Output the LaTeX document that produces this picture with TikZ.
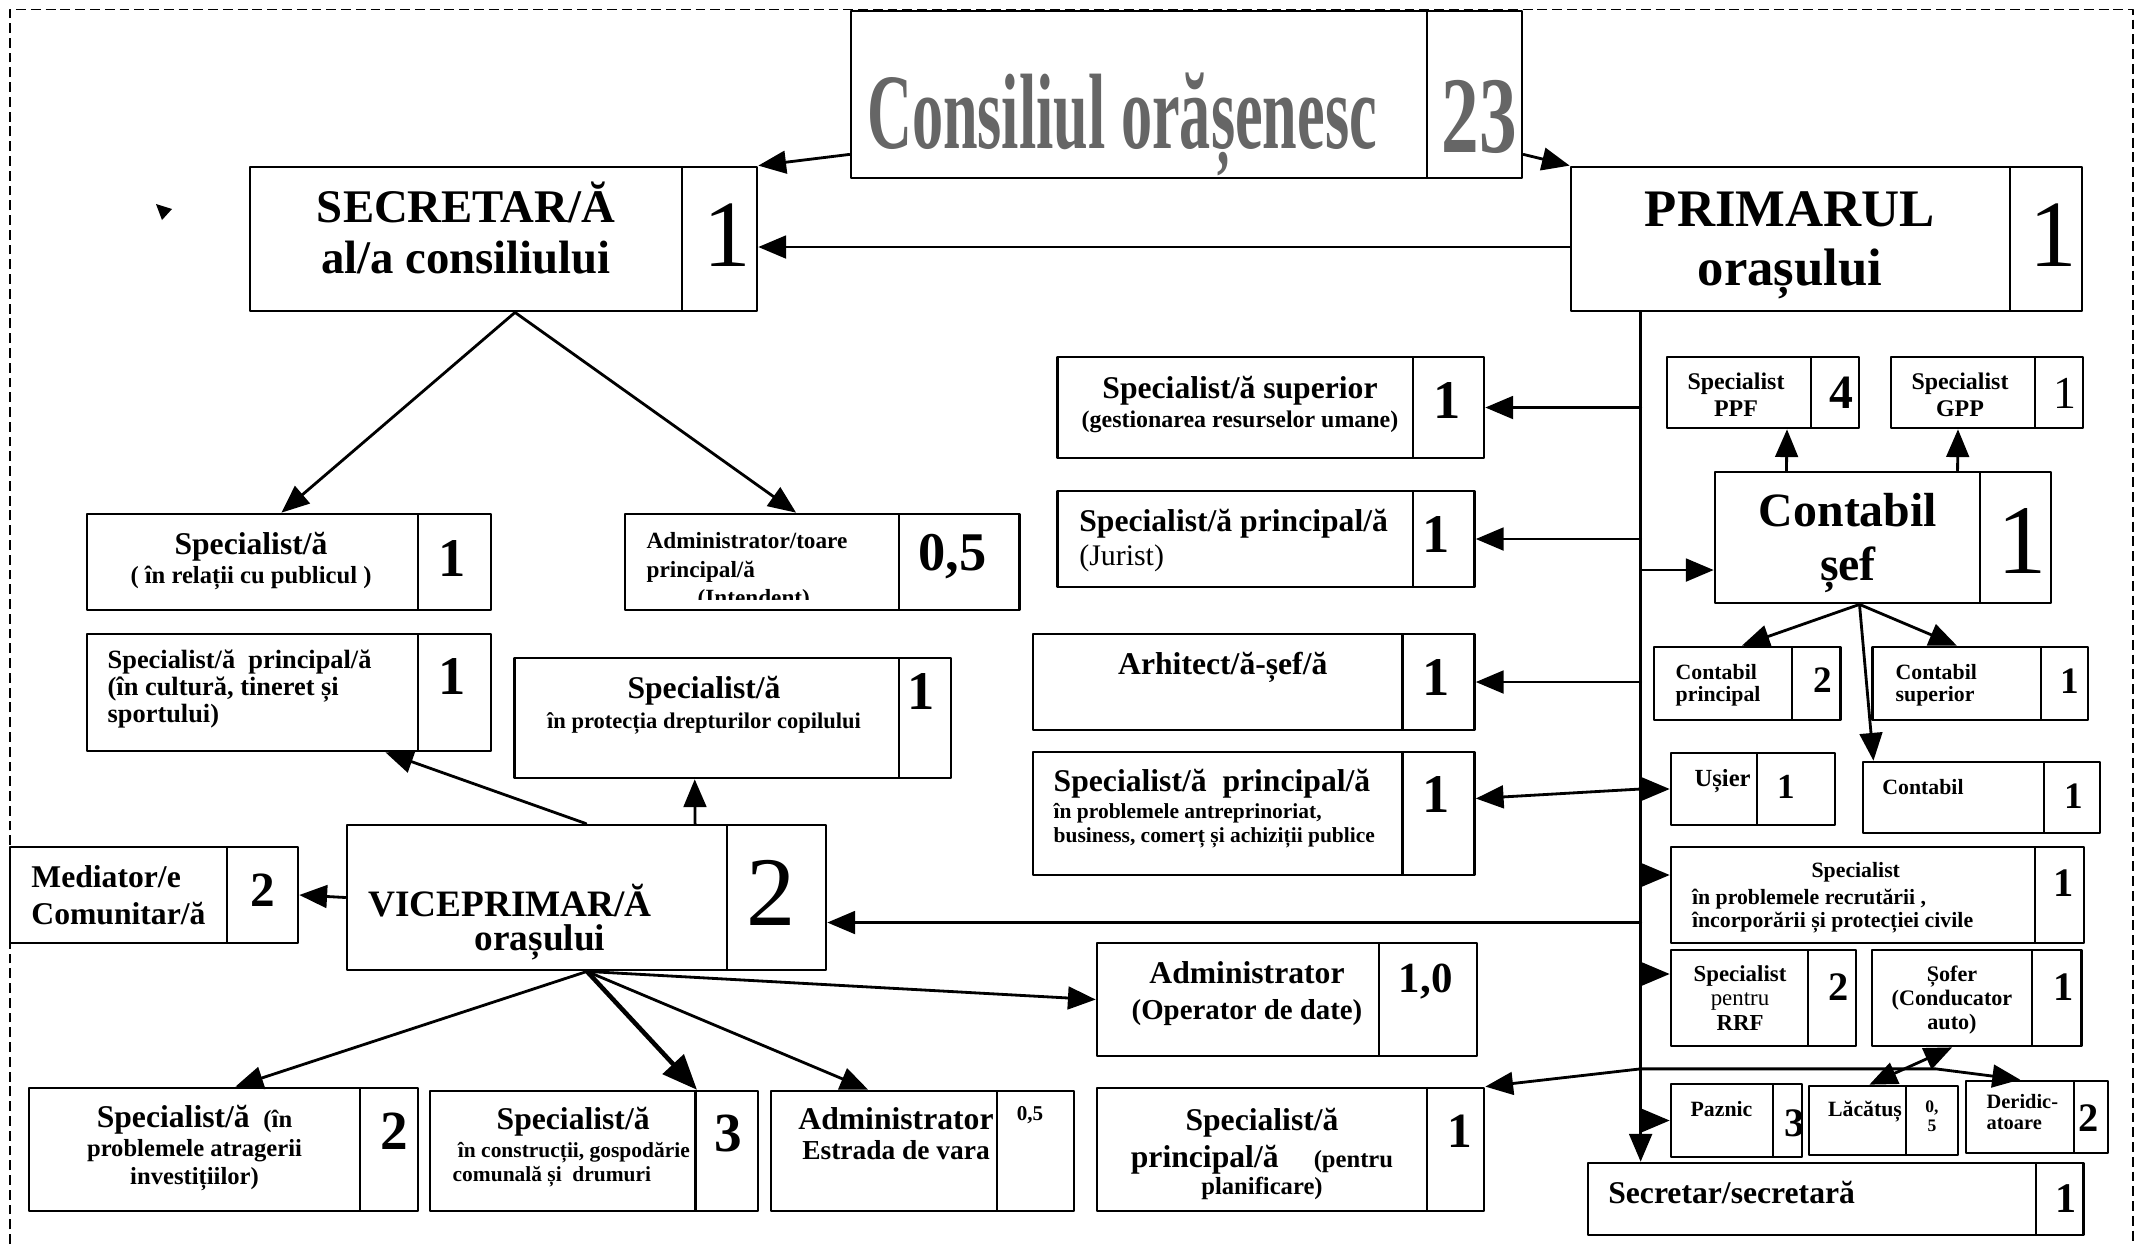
\documentclass[tikz,border=0pt]{standalone}
\usepackage{fontspec}
\setmainfont{Liberation Serif}
\usepackage{graphicx}
\usetikzlibrary{arrows,fit}
\newcommand{\fsz}[2]{\fontsize{#1}{#2}\selectfont}
\tikzset{
  frame/.style={draw, line width=0.8pt, inner sep=0pt},
  txt/.style={inner sep=0pt, align=center},
  num/.style={inner sep=0pt, font=\fsz{15.5}{15.5}\bfseries},
  big/.style={inner sep=0pt, font=\fsz{27}{27}},
  conn/.style={->, line width=0.8pt}
}

\begin{document}
\begin{tikzpicture}[line cap=round,line join=round,>=triangle 45,x=0.01cm,y=-0.01cm]
    \useasboundingbox (0,0) rectangle (2141,1244);

    % Page frame and stray tip
    \draw[line width=0.5pt, line cap=butt, dash pattern=on 2.8pt off 1.4pt] (10,1244) -- (10,9.5) -- (2133,9.5) -- (2133,1244);
    \fill (156,204) -- (172,209) -- (162,220) -- cycle;

    % Top level
    \node[frame, fit={(851,11) (1427,178)}] (cons) {};
    \node[frame, fit={(1427,11) (1522,178)}] (consN) {};
    \node[txt, anchor=base, text=black!60, font=\fsz{30.5}{30.5}\bfseries] (consT) at (1122,148) {\scalebox{0.58}[1]{Consiliul orășenesc}};
    \node[txt, anchor=base, text=black!60, font=\fsz{31}{31}\bfseries] (consNT) at (1479.5,152) {\scalebox{0.69}[1]{23}};

    \node[frame, fit={(250,167) (682,311)}] (secr) {};
    \node[frame, fit={(682,167) (757,311)}] (secrN) {};
    \node[txt, font=\fsz{13.3}{14.5}\bfseries] (secrT) at (466,228) {SECRETAR/Ă\\al/a consiliului};
    \node[big] (secrNT) at (726.8,235) {1};

    \node[frame, fit={(1571,167) (2010,311)}] (prim) {};
    \node[frame, fit={(2010,167) (2082,311)}] (primN) {};
    \node[txt, font=\fsz{15}{16.8}\bfseries] (primT) at (1790,245) {PRIMARUL\\orașului};
    \node[big] (primNT) at (2053.5,235) {1};

    % Under the secretary
    \node[frame, fit={(87,514) (418,610)}] (rel) {};
    \node[frame, fit={(418,514) (491,610)}] (relN) {};
    \node[txt, font=\fsz{9}{8}\bfseries] (relT) at (251,561) {Specialist/ă\\{\fsz{7}{8}( în relații cu publicul )}};
    \node[num] (relNT) at (452,558) {1};

    \node[frame, fit={(625,514) (899,610)}] (adm) {};
    \node[frame, fit={(899,514) (1019.5,610)}] (admN) {};
    \begin{scope}
        \clip (adm.north west) rectangle ([yshift=0.12cm]adm.south east);
        \node[txt, align=left, anchor=north west, font=\fsz{6.6}{8.1}\bfseries] (admT) at (646,532) {Administrator/toare\\principal/ă\\\hspace*{14.5pt}(Intendent)};
    \end{scope}
    \node[num] (admNT) at (952.6,556.7) {0,5};

    % Vice-mayor and its posts
    \node[frame, fit={(87,634) (418,751)}] (cult) {};
    \node[frame, fit={(418,634) (491,751)}] (cultN) {};
    \node[txt, align=left, anchor=west, font=\fsz{7.5}{7.8}\bfseries] (cultT) at (107,689) {Specialist/ă\ \ principal/ă\\(în cultură, tineret și\\sportului)};
    \node[num] (cultNT) at (452,676.7) {1};

    \node[frame, fit={(514.5,658) (899,778)}] (prot) {};
    \node[frame, fit={(899,658) (951,778)}] (protN) {};
    \node[txt, font=\fsz{9}{8.5}\bfseries] (protT) at (704,705) {Specialist/ă\\{\fsz{6.4}{8.5}în protecția drepturilor copilului}};
    \node[num] (protNT) at (921,691.7) {1};

    \node[frame, fit={(347,825) (727,970)}] (vice) {};
    \node[frame, fit={(727,825) (826,970)}] (viceN) {};
    \node[txt, font=\fsz{10.6}{9.5}\bfseries] (viceT) at (510,922) {VICEPRIMAR/Ă\\\hspace*{0.6cm}orașului};
    \node[big, font=\fsz{28}{28}] (viceNT) at (771,892.5) {2};

    \node[frame, fit={(10,847) (227,943)}] (med) {};
    \node[frame, fit={(227,847) (298,943)}] (medN) {};
    \node[txt, align=left, anchor=west, font=\fsz{9}{10.4}\bfseries] (medT) at (30.7,895) {Mediator/e\\Comunitar/ă};
    \node[num, font=\fsz{14}{14}\bfseries] (medNT) at (262.7,890) {2};

    \node[frame, fit={(29,1088) (360,1211)}] (atr) {};
    \node[frame, fit={(360,1088) (418,1211)}] (atrN) {};
    \node[txt, font=\fsz{9}{8}\bfseries] (atrT) at (194.5,1148) {Specialist/ă\hspace{3.9pt}{\fsz{7}{8}(în}\\{\fsz{7}{8}problemele atragerii}\\{\fsz{7}{8}investițiilor)}};
    \node[num, font=\fsz{15.7}{15.7}\bfseries] (atrNT) at (394,1131.7) {2};

    \node[frame, fit={(430,1091) (695.4,1211)}] (constr) {};
    \node[frame, fit={(695.4,1091) (758,1211)}] (constrN) {};
    \node[txt, align=left, anchor=west, font=\fsz{9}{7}\bfseries] (constrT) at (452,1147) {\hspace*{12.5pt}Specialist/ă\\[1pt]{\fsz{6.1}{7}\hspace*{1.5pt}în construcții, gospodărie}\\{\fsz{6.1}{7}comunală și \ drumuri}};
    \node[num, font=\fsz{15.7}{15.7}\bfseries] (constrNT) at (728.5,1133.3) {3};

    \node[frame, fit={(771,1091) (997,1211)}] (estr) {};
    \node[frame, fit={(997,1091) (1074,1211)}] (estrN) {};
    \node[txt, font=\fsz{9}{8.5}\bfseries] (estrT) at (896,1134) {Administrator\\{\fsz{7.8}{8.5}Estrada de vara}};
    \node[txt, font=\fsz{6}{6}\bfseries] (estrNT) at (1030,1115) {0,5};

    \node[frame, fit={(1097,943) (1379,1056)}] (oper) {};
    \node[frame, fit={(1379,943) (1477,1056)}] (operN) {};
    \node[txt, font=\fsz{9}{10}\bfseries] (operT) at (1247,993.5) {Administrator\\{\fsz{8.2}{10}(Operator de date)}};
    \node[num, font=\fsz{12.2}{12.2}\bfseries] (operNT) at (1425.7,981.7) {1,0};

    % Under the mayor, left column
    \node[frame, fit={(1097,1088) (1427,1211)}] (plan) {};
    \node[frame, fit={(1427,1088) (1484,1211)}] (planN) {};
    \node[txt, font=\fsz{9}{10.4}\bfseries] (planT) at (1262,1154) {Specialist/ă\\principal/ă\hspace{10pt}{\fsz{7}{10.4}(pentru}\\[-2.8pt]{\fsz{7}{10.4}planificare)}};
    \node[num, font=\fsz{14}{14}\bfseries] (planNT) at (1460,1131.7) {1};

    \node[frame, fit={(1057.5,357) (1413,458)}] (sup) {};
    \node[frame, fit={(1413,357) (1484,458)}] (supN) {};
    \node[txt, font=\fsz{9}{8.1}\bfseries] (supT) at (1240,404.4) {Specialist/ă superior\\{\fsz{6.8}{8.1}(gestionarea resurselor umane)}};
    \node[num] (supNT) at (1447.5,400) {1};

    \node[frame, fit={(1057.5,491) (1413,587)}] (jur) {};
    \node[frame, fit={(1413,491) (1474.5,587)}] (jurN) {};
    \node[txt, align=left, anchor=west, font=\fsz{9}{9.5}\bfseries] (jurT) at (1078.6,540.5) {Specialist/ă principal/ă\\{\mdseries\fsz{8.5}{9.5}(Jurist)}};
    \node[num] (jurNT) at (1436.6,534) {1};

    \node[frame, fit={(1033,634) (1402.4,730)}] (arh) {};
    \node[frame, fit={(1402.4,634) (1474.5,730)}] (arhN) {};
    \node[txt, anchor=base, font=\fsz{9}{9}\bfseries] (arhT) at (1222.8,674.3) {Arhitect/ă-șef/ă};
    \node[num] (arhNT) at (1436.6,677.5) {1};

    \node[frame, fit={(1033,752) (1402.4,875)}] (antr) {};
    \node[frame, fit={(1402.4,752) (1474.5,875)}] (antrN) {};
    \node[txt, align=left, anchor=north west, font=\fsz{9}{6.8}\bfseries] (antrT) at (1053,768.5) {Specialist/ă\ \ principal/ă\\[0.8pt]{\fsz{6.1}{6.8}în problemele antreprinoriat,}\\{\fsz{6.1}{6.8}business, comerț și achiziții publice}};
    \node[num] (antrNT) at (1436.6,794) {1};

    % Under the mayor, right column
    \node[frame, fit={(1667,357) (1811,428)}] (ppf) {};
    \node[frame, fit={(1811,357) (1859,428)}] (ppfN) {};
    \node[txt, font=\fsz{6.8}{7.6}\bfseries] (ppfT) at (1736,395) {Specialist\\PPF};
    \node[num, font=\fsz{13.6}{13.6}\bfseries] (ppfNT) at (1841,392.5) {4};

    \node[frame, fit={(1891,357) (2035,428)}] (gpp) {};
    \node[frame, fit={(2035,357) (2083,428)}] (gppN) {};
    \node[txt, font=\fsz{6.8}{7.6}\bfseries] (gppT) at (1960,395) {Specialist\\GPP};
    \node[txt, font=\fsz{13}{13}] (gppNT) at (2065.4,393) {1};

    \node[frame, fit={(1715,472) (1980,603)}] (cs) {};
    \node[frame, fit={(1980,472) (2051,603)}] (csN) {};
    \node[txt, font=\fsz{13.6}{15.6}\bfseries] (csT) at (1848,543) {Contabil\\șef};
    \node[big, font=\fsz{28}{28}] (csNT) at (2022.5,540.8) {1};

    \node[frame, fit={(1654,647) (1792,720)}] (cpr) {};
    \node[frame, fit={(1792,647) (1840.5,720)}] (cprN) {};
    \node[txt, align=left, anchor=west, font=\fsz{6.2}{6.5}\bfseries] (cprT) at (1675,685.3) {Contabil\\principal};
    \node[txt, font=\fsz{10.6}{10.6}\bfseries] (cprNT) at (1822.7,680.5) {2};

    \node[frame, fit={(1872.5,647) (2041,720)}] (csup) {};
    \node[frame, fit={(2041,647) (2088,720)}] (csupN) {};
    \node[txt, align=left, anchor=west, font=\fsz{6.2}{6.5}\bfseries] (csupT) at (1895,685.3) {Contabil\\superior};
    \node[txt, font=\fsz{10.6}{10.6}\bfseries] (csupNT) at (2070,681) {1};

    \node[frame, fit={(1671,753) (1757,825)}] (usier) {};
    \node[frame, fit={(1757,753) (1835,825)}] (usierN) {};
    \node[txt, anchor=base, font=\fsz{7}{7}\bfseries] (usierT) at (1722.6,786.7) {Ușier};
    \node[txt, font=\fsz{10}{10}\bfseries] (usierNT) at (1786,786.7) {1};

    \node[frame, fit={(1863,762) (2044,833)}] (cont) {};
    \node[frame, fit={(2044,762) (2100,833)}] (contN) {};
    \node[txt, anchor=base, font=\fsz{6.2}{6.2}\bfseries] (contT) at (1923,794.3) {Contabil};
    \node[txt, font=\fsz{10.6}{10.6}\bfseries] (contNT) at (2073.7,795.7) {1};

    \node[frame, fit={(1671,847) (2035,943)}] (recr) {};
    \node[frame, fit={(2035,847) (2084,943)}] (recrN) {};
    \node[txt, align=left, anchor=north west, font=\fsz{6.2}{6.6}\bfseries] (recrT) at (1691.3,862) {\hspace*{34pt}Specialist\\[1pt]în problemele recrutării ,\\încorporării și protecției civile};
    \node[txt, font=\fsz{11.5}{11.5}\bfseries] (recrNT) at (2064,883) {1};

    \node[frame, fit={(1671,950) (1808,1046)}] (rrf) {};
    \node[frame, fit={(1808,950) (1856,1046)}] (rrfN) {};
    \node[txt, font=\fsz{6.5}{6.9}\bfseries] (rrfT) at (1740,998) {Specialist\\{\mdseries pentru}\\RRF};
    \node[txt, font=\fsz{11.5}{11.5}\bfseries] (rrfNT) at (1839,986.7) {2};

    \node[frame, fit={(1872,950) (2032,1046)}] (sofer) {};
    \node[frame, fit={(2032,950) (2081.5,1046)}] (soferN) {};
    \node[txt, font=\fsz{6.3}{6.9}\bfseries] (soferT) at (1952,1000) {Șofer\\(Conducator\\auto)};
    \node[txt, font=\fsz{11.5}{11.5}\bfseries] (soferNT) at (2064,986.7) {1};

    \node[frame, fit={(1671,1084) (1773,1157)}] (pazn) {};
    \node[frame, fit={(1773,1084) (1802,1157)}] (paznN) {};
    \node[txt, anchor=base, font=\fsz{6.2}{6.2}\bfseries] (paznT) at (1721.5,1116.7) {Paznic};
    \node[txt, font=\fsz{11.5}{11.5}\bfseries] (paznNT) at (1795,1123.3) {3};

    \node[frame, fit={(1809,1086) (1906,1155)}] (lac) {};
    \node[frame, fit={(1906,1086) (1958,1155)}] (lacN) {};
    \node[txt, anchor=base, font=\fsz{6.2}{6.2}\bfseries] (lacT) at (1865,1116.7) {Lăcătuș};
    \node[txt, font=\fsz{5}{5.3}\bfseries] (lacNT) at (1932,1116.5) {0,\\5};

    \node[frame, fit={(1966,1081) (2074,1153)}] (der) {};
    \node[frame, fit={(2074,1081) (2108,1153)}] (derN) {};
    \node[txt, align=left, anchor=west, font=\fsz{5.8}{6.2}\bfseries] (derT) at (1986,1112) {Deridic-\\atoare};
    \node[txt, font=\fsz{11.5}{11.5}\bfseries] (derNT) at (2088.6,1118.3) {2};

    \node[frame, fit={(1588,1163) (2036,1235)}] (secy) {};
    \node[frame, fit={(2036,1163) (2083.5,1235)}] (secyN) {};
    \node[txt, anchor=base west, font=\fsz{9}{9}\bfseries] (secyT) at (1607.6,1203.3) {Secretar/secretară};
    \node[txt, font=\fsz{12}{12}\bfseries] (secyNT) at (2066,1199) {1};

    % Connection points
    \coordinate (spine) at ([xshift=0.71cm]prim.south west);
    \coordinate (hub) at ([yshift=-7.56cm]spine);
    \coordinate (fork) at ([xshift=2.95cm]hub);
    \coordinate (csin) at ([yshift=-0.325cm]cs.west);
    \coordinate (vicein) at ([yshift=-0.25cm]viceN.east);
    \coordinate (recrin) at ([yshift=0.2cm]recr.west);
    \coordinate (rrfin) at ([yshift=0.24cm]rrf.west);
    \coordinate (csout) at ([xshift=0.12cm]cs.south);
    \coordinate (viceout) at ([xshift=0.5cm]vice.south);

    % Edges
    \draw[conn] ([yshift=0.25cm]cons.south west) -- (secrN.north east);
    \draw[conn] ([yshift=0.25cm]consN.south east) -- (prim.north west);
    \draw[conn] ([yshift=-0.08cm]prim.west) -- ([yshift=-0.08cm]secrN.east);
    \draw[conn] ([xshift=0.49cm]secr.south) -- ([xshift=0.29cm]rel.north);
    \draw[conn] ([xshift=0.49cm]secr.south) -- ([xshift=0.34cm]adm.north);

    \draw[conn] (spine) -- (spine |- secy.north);
    \foreach \target in {supN, jurN, arhN} {
        \draw[conn] (spine |- \target.east) -- (\target.east);
    }
    \draw[conn, <->] ([yshift=0.15cm]antrN.east) -- (spine |- usier.west) -- (usier.west);
    \draw[conn] (spine |- csin) -- (csin);
    \draw[conn] (spine |- vicein) -- (vicein);
    \draw[conn] (spine |- recrin) -- (recrin);
    \draw[conn] (spine |- rrfin) -- (rrfin);
    \draw[conn] (spine |- pazn.west) -- (pazn.west);
    \draw[conn] (hub) -- (fork) -- (der.north);
    \draw[conn] (hub) -- (planN.north east);
    \draw[conn, <->] ([xshift=0.12cm]lac.north) -- (sofer.south);

    \draw[conn] ([xshift=-0.61cm]cs.north) -- ([xshift=0.48cm]ppf.south);
    \draw[conn] ([xshift=1.1cm]cs.north) -- ([xshift=-0.05cm]gpp.south);
    \draw[conn] (csout) -- ([xshift=0.19cm]cpr.north);
    \draw[conn] (csout) -- (csup.north);
    \draw[conn] (csout) -- ([xshift=-0.8cm]cont.north);

    \draw[conn] (vice.west) -- (medN.east);
    \draw[conn] ([xshift=0.49cm]vice.north) -- ([xshift=1.33cm]cult.south);
    \draw[conn] ([xshift=1.58cm]vice.north) -- ([xshift=-0.12cm]prot.south);
    \draw[conn] (viceout) -- ([xshift=0.41cm]atr.north);
    \draw[conn, line width=1.3pt] (viceout) -- (constr.north east);
    \draw[conn] (viceout) -- ([xshift=-0.16cm]estr.north);
    \draw[conn] (viceout) -- (oper.west);
\end{tikzpicture}
\end{document}
